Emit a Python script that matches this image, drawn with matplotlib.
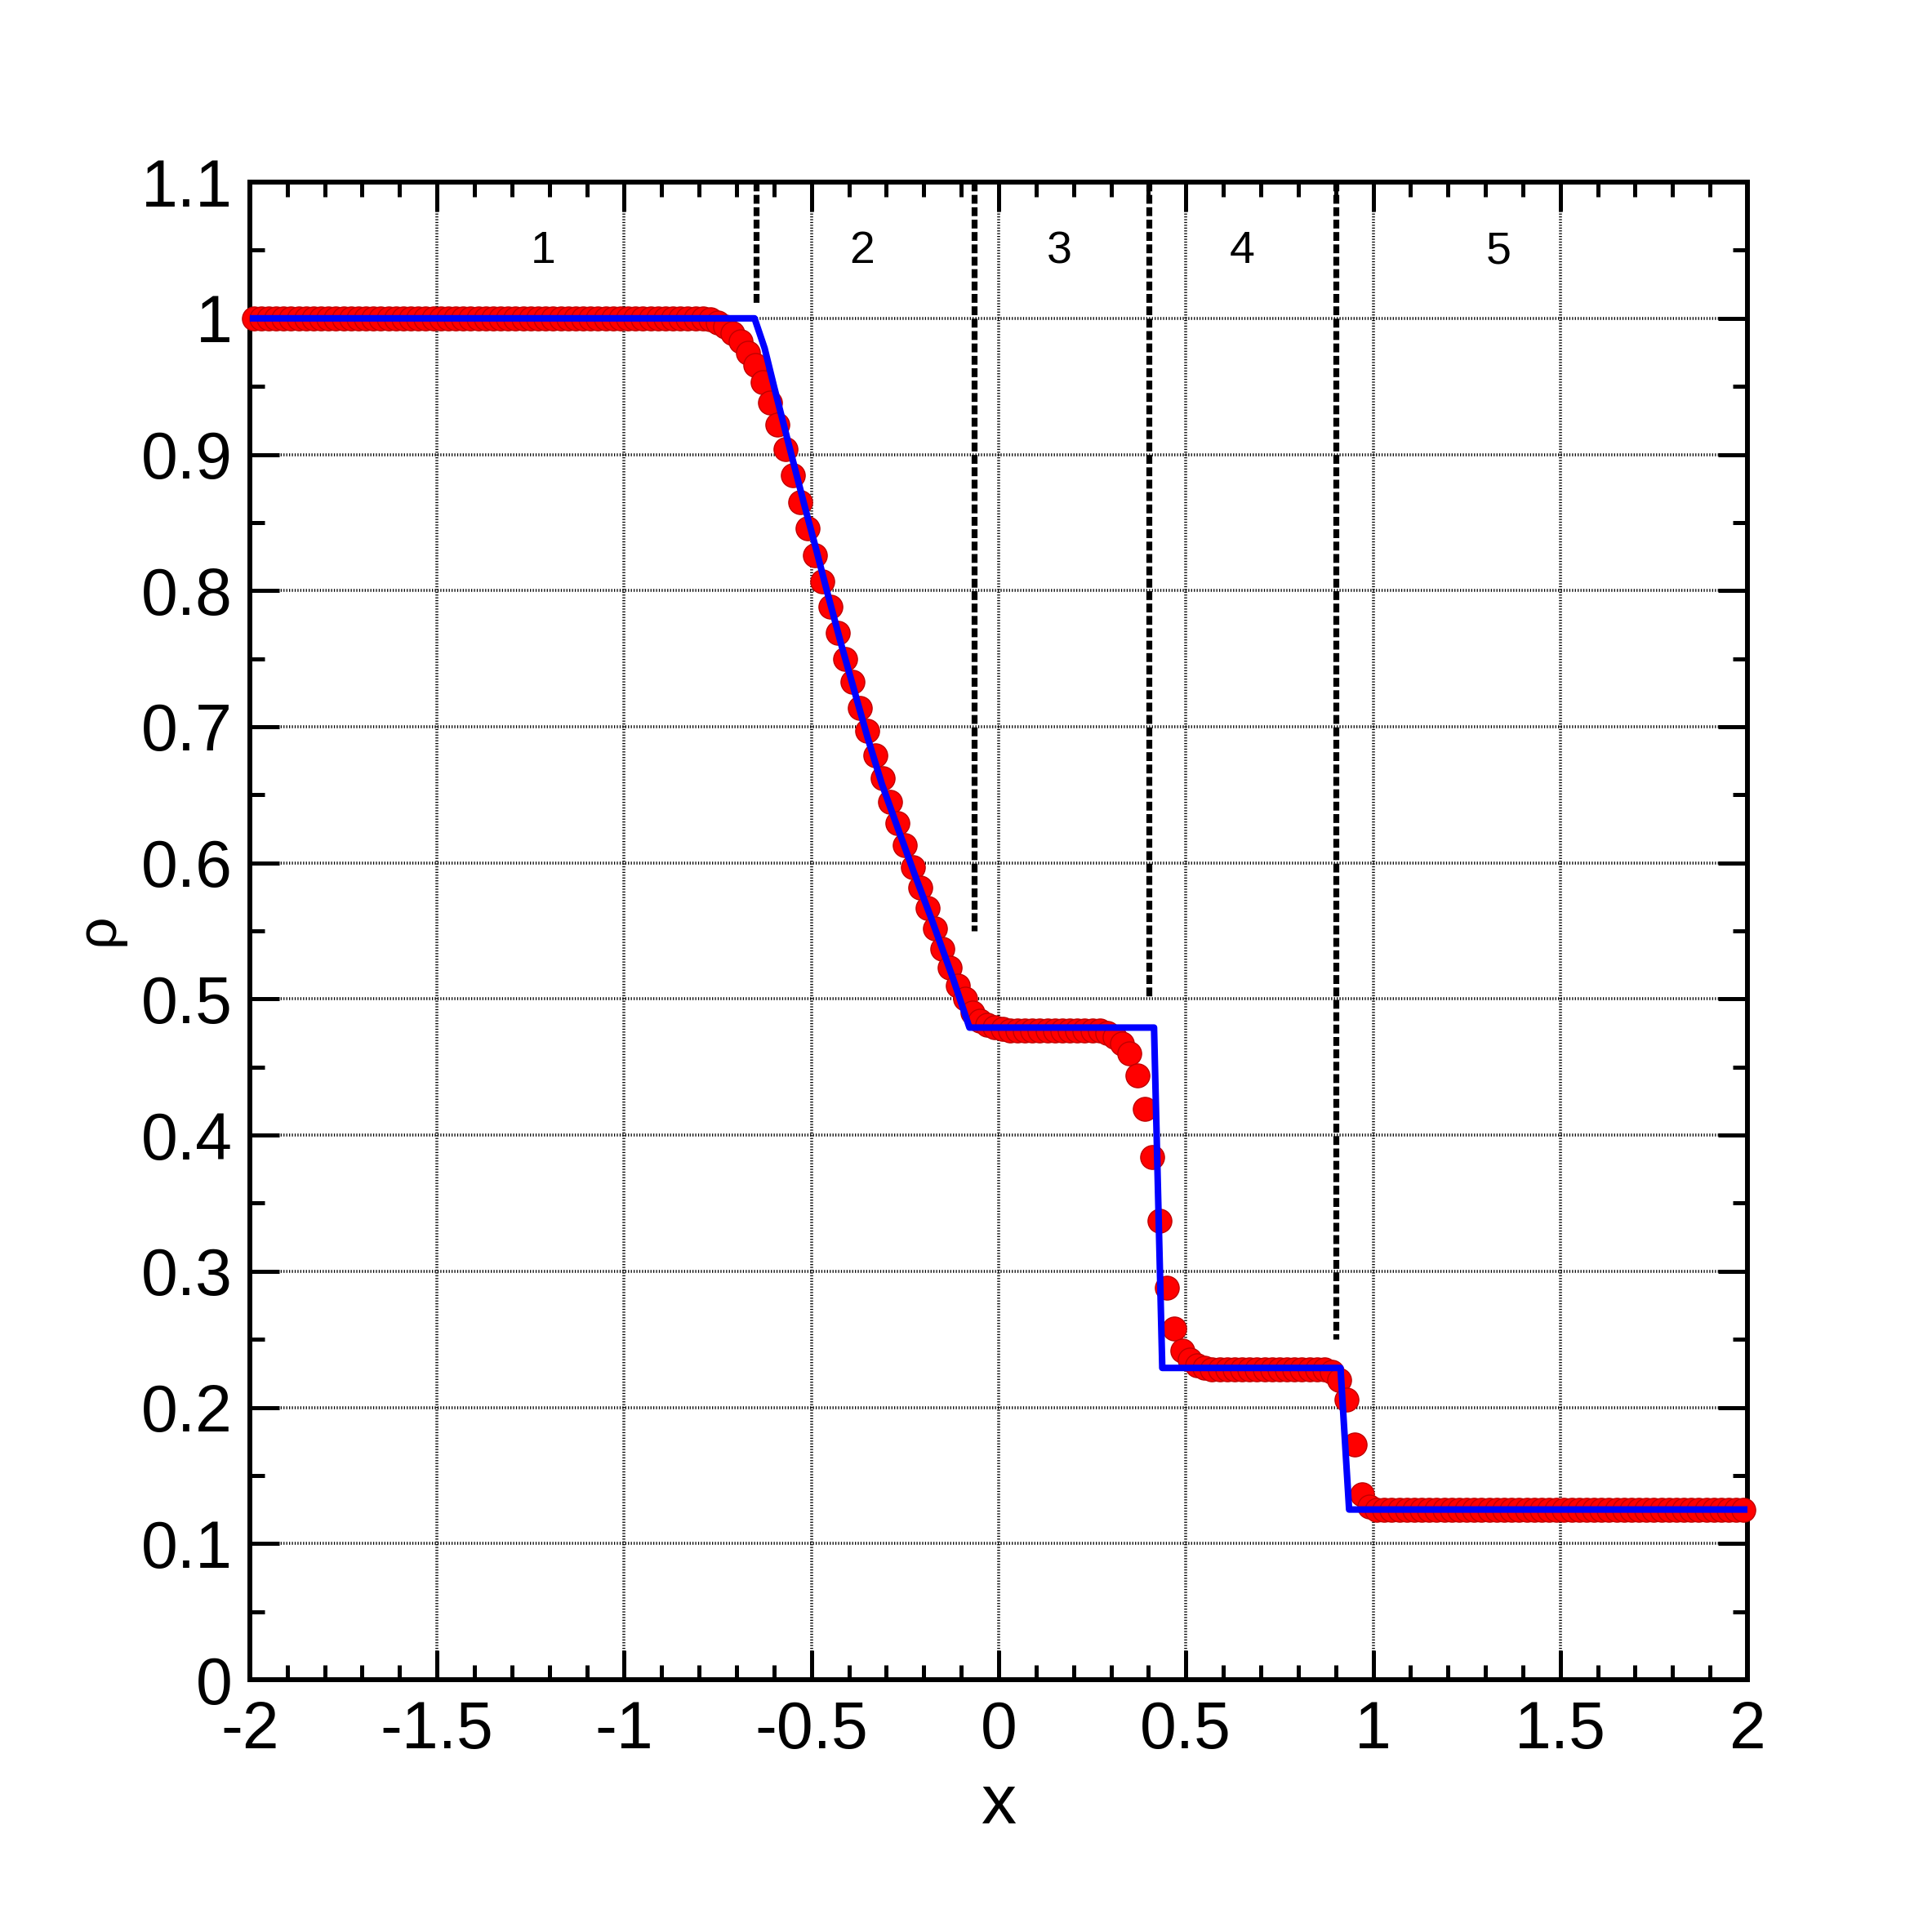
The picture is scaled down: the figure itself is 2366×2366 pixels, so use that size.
import numpy as np
import matplotlib
matplotlib.use("Agg")
import matplotlib.pyplot as plt
from matplotlib.ticker import MultipleLocator, FixedLocator, FixedFormatter

plt.rcParams['font.family'] = ['Liberation Sans', 'DejaVu Sans']
plt.rcParams['axes.unicode_minus'] = False

# numerical solution (cell centres, dx = 0.02)
x_num = np.arange(-1.99, 2.0, 0.02)
rho_num = ([1.0] * 61
           + [0.999, 0.997, 0.994, 0.989, 0.983, 0.975, 0.966, 0.953, 0.938, 0.922,
              0.904, 0.885, 0.865, 0.846, 0.826, 0.807, 0.788, 0.769, 0.750, 0.733,
              0.714, 0.697, 0.679, 0.662, 0.645, 0.629, 0.613, 0.597, 0.582, 0.567,
              0.552, 0.537, 0.523, 0.510, 0.500, 0.490, 0.484, 0.481, 0.479]
           + [0.478, 0.477, 0.477, 0.477, 0.477, 0.477, 0.477, 0.477, 0.477, 0.477,
              0.477, 0.477]
           + [0.477, 0.477, 0.475, 0.472, 0.467, 0.460, 0.444, 0.419, 0.384, 0.337,
              0.288, 0.258, 0.242, 0.235, 0.231, 0.229]
           + [0.228] * 15
           + [0.228, 0.226, 0.220, 0.206, 0.173, 0.136, 0.127, 0.125]
           + [0.125] * 49)

# exact solution
x_exact = [-2.0, -0.652, -0.625, -0.600, -0.575, -0.550, -0.520, -0.490, -0.457,
           -0.420, -0.385, -0.350, -0.312, -0.270, -0.225, -0.181, -0.123, -0.078,
           0.415, 0.437, 0.913, 0.936, 2.0]
rho_exact = [1.0, 1.0, 0.978, 0.950, 0.923, 0.896, 0.864, 0.833, 0.798,
             0.760, 0.726, 0.692, 0.658, 0.626, 0.592, 0.560, 0.516, 0.479,
             0.479, 0.229, 0.229, 0.125, 0.125]

# region separators and labels
sep_x = [-0.647, -0.066, 0.402, 0.900]
sep_bottom = [1.01, 0.55, 0.50, 0.25]
region_x = [-1.216, -0.364, 0.163, 0.650, 1.335]
region_txt = ['1', '2', '3', '4', '5']

xticks = [-2, -1.5, -1, -0.5, 0, 0.5, 1, 1.5, 2]
xtick_labels = ['-2', '-1.5', '-1', '-0.5', '0', '0.5', '1', '1.5', '2']
yticks = [0, 0.1, 0.2, 0.3, 0.4, 0.5, 0.6, 0.7, 0.8, 0.9, 1.0, 1.1]
ytick_labels = ['0', '0.1', '0.2', '0.3', '0.4', '0.5', '0.6', '0.7', '0.8', '0.9', '1', '1.1']

fig = plt.figure(figsize=(23.66, 23.66), dpi=100)
ax = fig.add_axes([0.1293, 0.1306, 0.7752, 0.7751])

ax.set_xlim(-2, 2)
ax.set_ylim(0, 1.1)

ax.xaxis.set_major_locator(FixedLocator(xticks))
ax.xaxis.set_major_formatter(FixedFormatter(xtick_labels))
ax.yaxis.set_major_locator(FixedLocator(yticks))
ax.yaxis.set_major_formatter(FixedFormatter(ytick_labels))
ax.xaxis.set_minor_locator(MultipleLocator(0.1))
ax.yaxis.set_minor_locator(MultipleLocator(0.05))

ax.grid(True, which='major', color='black', linewidth=2.6, linestyle=(0, (0.35, 0.6)))
ax.set_axisbelow(True)

for s in ax.spines.values():
    s.set_linewidth(4.3)

ax.tick_params(which='both', direction='in', top=True, right=True, labelsize=58)
ax.tick_params(which='major', length=26, width=3.6)
ax.tick_params(which='minor', length=13, width=3.6)
ax.tick_params(axis='x', pad=18)
ax.tick_params(axis='y', pad=15)

for xs, yb in zip(sep_x, sep_bottom):
    ax.plot([xs, xs], [1.1, yb], color='black', linewidth=5.2, linestyle=(0, (1.5, 0.6)), zorder=2)

for xr, t in zip(region_x, region_txt):
    ax.text(xr, 1.049, t, fontsize=40, ha='center', va='center', zorder=3)

ax.plot(x_num, rho_num, linestyle='none', marker='o', markersize=21,
        markerfacecolor='#ff0000', markeredgecolor='#c00000', markeredgewidth=1,
        clip_on=False, zorder=3)
ax.plot(x_exact, rho_exact, color='#0000ff', linewidth=5.8, zorder=4)

fig.text(0.5166, 0.0562, 'x', fontsize=62, ha='center', va='baseline')
fig.text(0.051, 0.519, 'ρ', fontsize=50, ha='center', va='center', rotation=90)

fig.savefig('out.png', dpi=100)
